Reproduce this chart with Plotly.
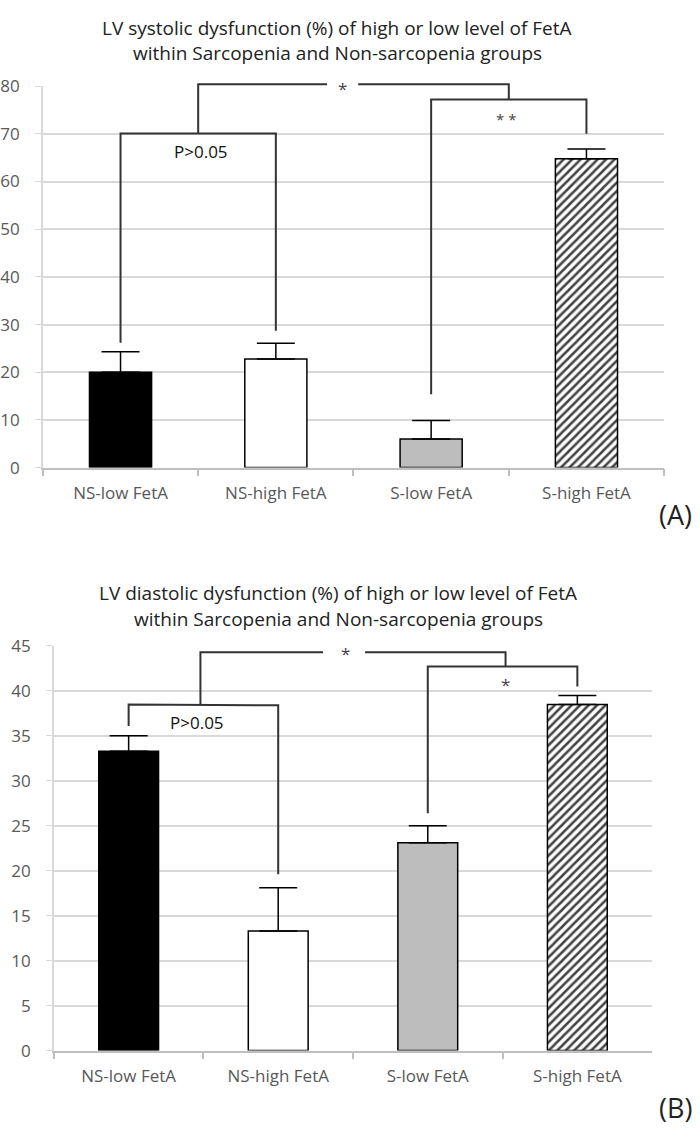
import plotly.graph_objects as go
from plotly.subplots import make_subplots

categories = ["NS-low FetA", "NS-high FetA", "S-low FetA", "S-high FetA"]
systolic_values = [20.0, 22.8, 6.0, 64.8]
systolic_err = [4.3, 3.3, 3.9, 2.0]
diastolic_values = [33.3, 13.3, 23.1, 38.5]
diastolic_err = [1.7, 4.8, 1.9, 1.0]
bar_colors = ["#000000", "#ffffff", "#bdbdbd", "#ffffff"]
bar_patterns = ["", "", "", "/"]

title_a = ["LV systolic dysfunction (%) of high or low level of FetA",
           "within Sarcopenia and Non-sarcopenia groups"]
title_b = ["LV diastolic dysfunction (%) of high or low level of FetA",
           "within Sarcopenia and Non-sarcopenia groups"]

W, H = 700, 1139
FONT = "Open Sans"
LINE = "#333333"

def py(px):
    return 1 - px / H

XDOM = {1: [41 / W, 664 / W], 2: [52 / W, 652 / W]}
YDOM = {1: [py(465), py(75.7)], 2: [py(1060), py(647)]}
YMAX = {1: 80, 2: 45}

fig = make_subplots(rows=2, cols=1)

def add_bars(values, err, row):
    fig.add_trace(go.Bar(
        x=categories, y=values, width=0.4,
        marker=dict(color=bar_colors, line=dict(color="#000000", width=1.5),
                    pattern=dict(shape=bar_patterns, fgcolor="#000000",
                                 fgopacity=1, size=6, solidity=0.42)),
        error_y=dict(type="data", symmetric=False, array=err,
                     arrayminus=[0] * len(err), color="#000000",
                     thickness=1.5, width=19),
        showlegend=False), row=row, col=1)

add_bars(systolic_values, systolic_err, 1)
add_bars(diastolic_values, diastolic_err, 2)

fig.update_layout(
    width=W, height=H, margin=dict(l=0, r=0, t=0, b=0),
    paper_bgcolor="white", plot_bgcolor="white",
    font=dict(family=FONT, color="#595959"),
    xaxis=dict(domain=XDOM[1], range=[-0.5, 3.5]),
    yaxis=dict(domain=YDOM[1], range=[0, YMAX[1]], dtick=10),
    xaxis2=dict(domain=XDOM[2], range=[-0.5, 3.5]),
    yaxis2=dict(domain=YDOM[2], range=[0, YMAX[2]], dtick=5),
)
for ax in ["xaxis", "xaxis2"]:
    fig.layout[ax].update(type="category", showgrid=False, showline=True,
                          linecolor="#bfbfbf", linewidth=1.5,
                          ticks="outside", tickson="boundaries", ticklen=7,
                          tickcolor="#bfbfbf", tickwidth=1.5,
                          tickfont=dict(size=17, color="#595959"),
                          ticklabelstandoff=9, fixedrange=True)
for ax in ["yaxis", "yaxis2"]:
    fig.layout[ax].update(showgrid=True, gridcolor="#d9d9d9", gridwidth=1.5,
                          showline=True, linecolor="#d9d9d9", linewidth=1.5,
                          ticks="outside", ticklen=6, tickcolor="#d9d9d9",
                          tickfont=dict(size=17, color="#595959"),
                          ticklabelstandoff=12, zeroline=False)

def to_paper(row, x, y):
    x0, x1 = XDOM[row]
    y0, y1 = YDOM[row]
    return x0 + (x + 0.5) / 4 * (x1 - x0), y0 + y / YMAX[row] * (y1 - y0)

shapes = []
def path(row, points):
    pts = [to_paper(row, x, y) for x, y in points]
    d = "M " + " L ".join(f"{x:.5f},{y:.5f}" for x, y in pts)
    shapes.append(dict(type="path", path=d, xref="paper", yref="paper",
                       line=dict(color=LINE, width=2)))

# Panel A brackets
path(1, [(0, 26.2), (0, 70.1), (1, 70.1), (1, 28.7)])
path(1, [(0.5, 70.1), (0.5, 80.4), (1.33, 80.4)])
path(1, [(1.53, 80.4), (2.5, 80.4), (2.5, 77.2)])
path(1, [(2, 15.4), (2, 77.2), (3, 77.2), (3, 70.0)])
# Panel B brackets
path(2, [(0, 36.1), (0, 38.5), (1, 38.4), (1, 19.6)])
path(2, [(0.48, 38.5), (0.48, 44.3), (1.3, 44.3)])
path(2, [(1.58, 44.3), (2.52, 44.3), (2.52, 42.7)])
path(2, [(2, 26.4), (2, 42.7), (3, 42.7), (3, 40.5)])

ann = []
def txt(x, y, t, size=16, color="#333333"):
    ann.append(dict(x=x, y=y, xref="paper", yref="paper", text=t,
                    showarrow=False,
                    font=dict(size=size, color=color, family=FONT),
                    xanchor="center", yanchor="middle"))

def dtxt(row, x, y, t, size=16, color="#333333"):
    px_, py_ = to_paper(row, x, y)
    txt(px_, py_, t, size, color)

dtxt(1, 0.52, 66.3, "P>0.05", 17, "#111111")
dtxt(1, 1.43, 79.6, "*", 17, "#444444")
dtxt(1, 2.48, 73.2, "* *", 15, "#444444")
dtxt(2, 0.46, 36.5, "P>0.05", 17, "#111111")
dtxt(2, 1.447, 44.2, "*", 17, "#444444")
dtxt(2, 2.52, 40.7, "*", 17, "#444444")

for t, yy in zip(title_a, [16, 42]):
    txt(336 / W, py(yy), t, 19, "#222222")
for t, yy in zip(title_b, [593, 620]):
    txt(337 / W, py(yy), t, 19, "#222222")

txt(675 / W, py(513), "(A)", 27, "#222222")
txt(675 / W, py(1118), "(B)", 27, "#222222")

fig.update_layout(shapes=shapes, annotations=ann)
fig.write_html("out.html")
